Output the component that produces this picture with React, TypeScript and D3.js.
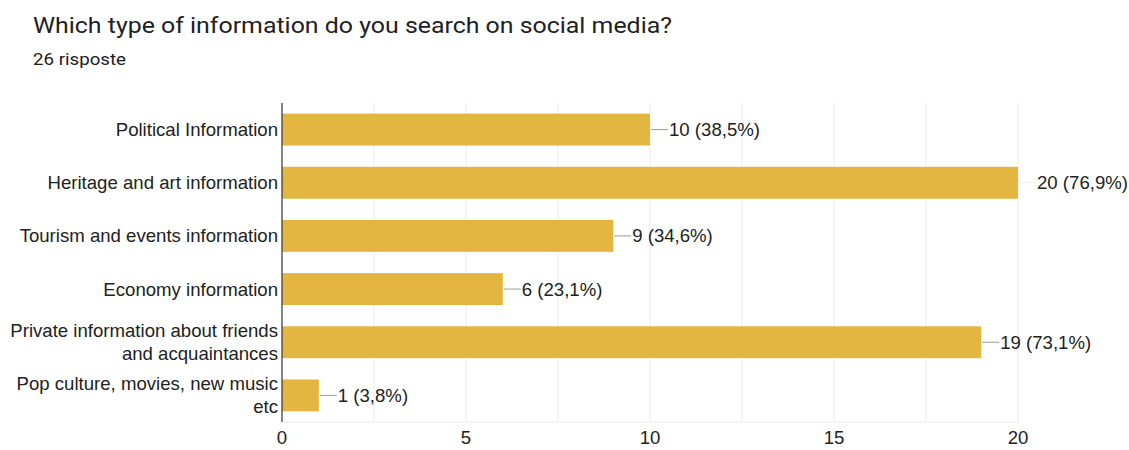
import React from "react";
import * as d3 from "d3";

const categories: string[][] = [
  ["Political Information"],
  ["Heritage and art information"],
  ["Tourism and events information"],
  ["Economy information"],
  ["Private information about friends", "and acquaintances"],
  ["Pop culture, movies, new music", "etc"],
];
const values: number[] = [10, 20, 9, 6, 19, 1];
const percents: string[] = ["38,5%", "76,9%", "34,6%", "23,1%", "73,1%", "3,8%"];
const xTicks: number[] = [0, 5, 10, 15, 20];
const gridTicks: number[] = [2.5, 5, 7.5, 10, 12.5, 15, 17.5, 20];

const W = 1129;
const H = 450;
const left = 282;
const right = 1018;
const top = 103;
const bottom = 422;

export default function App() {
  const x = d3.scaleLinear().domain([0, 20]).range([left, right]);
  const y = d3
    .scaleBand<number>()
    .domain(d3.range(values.length))
    .range([top, bottom])
    .paddingInner(0.4)
    .paddingOuter(0.2);
  const font = "'Liberation Sans', Arial, sans-serif";
  const fs = 18.6;
  return (
    <svg
      width={W}
      height={H}
      style={{ position: "absolute", left: 0, top: 0, background: "#fff" }}
    >
      <text
        x={33}
        y={33}
        fontFamily="Roboto, sans-serif"
        fontSize={22}
        fill="#202124"
        textLength={639}
        lengthAdjust="spacingAndGlyphs"
      >
        Which type of information do you search on social media?
      </text>
      <text
        x={33}
        y={65}
        fontFamily="Roboto, sans-serif"
        fontSize={17}
        fill="#202124"
        textLength={93}
        lengthAdjust="spacingAndGlyphs"
      >
        26 risposte
      </text>
      {gridTicks.map((t) => (
        <line key={t} x1={x(t)} x2={x(t)} y1={top} y2={bottom} stroke="#ebebeb" strokeWidth={1} />
      ))}
      <line x1={left} x2={right} y1={bottom} y2={bottom} stroke="#ebebeb" />
      {values.map((v, i) => {
        const y0 = y(i)!;
        const bh = y.bandwidth();
        const cy = y0 + bh / 2;
        const lines = categories[i];
        const lh = 23;
        return (
          <g key={i}>
            <rect x={x(0)} y={y0} width={x(v) - x(0)} height={bh} fill="#e2b640" />
            <line
              x1={x(v) + 1}
              x2={x(v) + 18}
              y1={cy}
              y2={cy}
              stroke={v === 20 ? "#eeeeee" : "#999"}
              strokeWidth={1}
            />
            <text
              x={x(v) + 19}
              y={cy}
              dy="0.35em"
              fontFamily={font}
              fontSize={fs}
              fill="#222"
            >
              {`${v} (${percents[i]})`}
            </text>
            {lines.map((l, j) => (
              <text
                key={j}
                x={left - 4}
                y={cy + (j - (lines.length - 1) / 2) * lh}
                dy="0.35em"
                textAnchor="end"
                fontFamily={font}
                fontSize={fs}
                fill="#222"
              >
                {l}
              </text>
            ))}
          </g>
        );
      })}
      <line x1={left} x2={left} y1={top} y2={bottom} stroke="#333" strokeWidth={1.2} />
      {xTicks.map((t) => (
        <text
          key={t}
          x={x(t)}
          y={444}
          textAnchor="middle"
          fontFamily={font}
          fontSize={fs}
          fill="#222"
        >
          {t}
        </text>
      ))}
    </svg>
  );
}
